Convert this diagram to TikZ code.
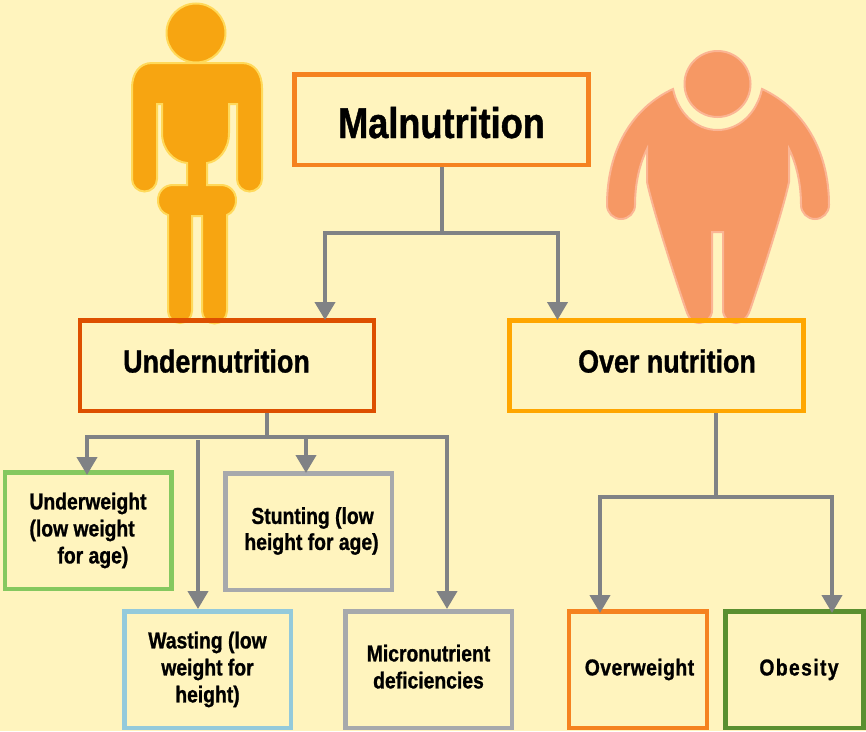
\documentclass[tikz,border=0pt]{standalone}
\usepackage{fontspec}
\usepackage{xcolor}
\usepackage{tikz}
\usetikzlibrary{arrows.meta}
\setmainfont[FakeStretch=0.84,BoldFeatures={FakeBold=1}]{Liberation Sans}
\definecolor{paperyellow}{HTML}{FFF4BE}
\definecolor{linegray}{HTML}{808285}
\definecolor{thinfill}{HTML}{F7A511}
\definecolor{thinedge}{HTML}{FFD95A}
\definecolor{fatfill}{HTML}{F69864}
\definecolor{fatedge}{HTML}{FBB594}
\definecolor{rootorange}{HTML}{F58220}
\definecolor{underred}{HTML}{DD4F00}
\definecolor{overamber}{HTML}{FFA600}
\definecolor{leafgreen}{HTML}{85C85F}
\definecolor{leafgray}{HTML}{A7A9AC}
\definecolor{leafblue}{HTML}{94CADB}
\definecolor{leafolive}{HTML}{5A8F30}

\begin{document}
\begin{tikzpicture}[x=1pt,y=-1pt,
        bigbox/.style={rectangle, draw, line width=4.5pt, minimum width=294pt, minimum height=90.5pt,
                     text centered, font=\bfseries\fontsize{32}{36}\selectfont},
        leafbox/.style={rectangle, draw, line width=4.5pt, minimum width=166.5pt, minimum height=116.5pt,
                     align=left, font=\bfseries\fontsize{23}{27}\selectfont},
        endbox/.style={rectangle, draw, line width=4.5pt, minimum width=138pt, minimum height=116.5pt,
                     text centered, font=\bfseries\fontsize{23}{27}\selectfont},
        arrow/.style={-{Triangle[width=20pt,length=18pt]}, line width=4pt, color=linegray, shorten >=-#1},
        arrow/.default=0pt,
        branch/.style={line width=4pt, color=linegray},
        thinman/.style={fill=thinfill, draw=thinedge, line width=2pt},
        fatman/.style={fill=fatfill, draw=fatedge, line width=2pt}
    ]
        % Page background
        \useasboundingbox (0,0) rectangle (866,731);
        \fill[paperyellow] (0,0) rectangle (866,731);

        % Thin figure
        \node[circle, thinman, minimum size=59pt, inner sep=0pt] (thinhead) at (196,33) {};
        \path[thinman] (152,63) -- (242,63) .. controls (255,63) and (262,74) .. (262,88)
            -- (262,179) arc[start angle=0, end angle=180, radius=12.5] -- (237,104) -- (229,104) -- (229,133)
            .. controls (229,150) and (218,162) .. (207,163) -- (207,185) -- (221,185)
            .. controls (230,185) and (236,192) .. (236,200) .. controls (236,208) and (232,213) .. (227,215)
            -- (227,311) arc[start angle=0, end angle=180, radius=12.5] -- (202,216) -- (192,216)
            -- (192,311) arc[start angle=0, end angle=180, radius=12] -- (168,215)
            .. controls (162,213) and (158,208) .. (158,200) .. controls (158,192) and (164,185) .. (173,185)
            -- (187,185) -- (187,163) .. controls (174,162) and (162,150) .. (162,133)
            -- (162,104) -- (157,104) -- (157,179) arc[start angle=0, end angle=180, radius=12.5]
            -- (132,88) .. controls (132,74) and (139,63) .. (152,63) -- cycle;

        % Fat figure
        \node[circle, fatman, minimum size=66pt, inner sep=0pt] (fathead) at (717.5,84) {};
        \path[fatman] (673,89) .. controls (678,113) and (696,130) .. (717.5,130)
            .. controls (739,130) and (757,113) .. (762,89)
            .. controls (803,108) and (829,150) .. (829,205)
            arc[start angle=0, end angle=180, radius=14]
            .. controls (801,185) and (797,165) .. (789,149) -- (789,182)
            .. controls (783,210) and (762,275) .. (750,310)
            .. controls (747,319) and (741,323) .. (736,323) .. controls (729,323) and (723,318) .. (723,310)
            -- (723,232) -- (712,232) -- (712,310)
            .. controls (712,318) and (706,323) .. (699,323) .. controls (693,323) and (689,319) .. (686,310)
            .. controls (674,275) and (653,210) .. (647,182) -- (647,149)
            .. controls (639,165) and (635,185) .. (635,205)
            arc[start angle=0, end angle=180, radius=14]
            .. controls (607,150) and (632,108) .. (673,89) -- cycle;

        % Main boxes
        \node[bigbox, draw=rootorange, font=\bfseries\fontsize{43}{47}\selectfont] (malnutrition) at (441.5,119.5) {\raisebox{-18.5pt}[0pt][0pt]{Malnutrition}};
        \node[bigbox, draw=underred] (undernutrition) at (227,365.5) {\raisebox{-7pt}[0pt][0pt]{Undernutrition}\hspace*{21pt}};
        \node[bigbox, draw=overamber] (overnutrition) at (656.5,365.5) {\hspace*{21pt}\raisebox{-7pt}[0pt][0pt]{Over nutrition}};

        % Leaf boxes
        \node[leafbox, draw=leafgreen] (underweight) at (88,530.5) {Underweight\\(low weight\\\hspace*{28pt}for age)};
        \node[leafbox, draw=leafgray] (stunting) at (308.5,531.5) {\hspace*{6pt}\begin{tabular}{@{}l@{}}\hspace*{7pt}Stunting (low\\[-1pt]height for age)\end{tabular}};
        \node[leafbox, draw=leafblue, align=center] (wasting) at (207.5,669.5) {Wasting (low\\weight for\\height)};
        \node[leafbox, draw=leafgray, align=center] (micronutrient) at (428.5,669.5) {\begin{tabular}{@{}c@{}}Micronutrient\\deficiencies\end{tabular}};
        \node[endbox, draw=rootorange] (overweight) at (638,669.5) {\hspace*{3pt}{\addfontfeature{LetterSpace=2}Overweight}};
        \node[endbox, draw=leafolive] (obesity) at (794.5,669.5) {\hspace*{9pt}{\addfontfeature{LetterSpace=6}Obesity}};

        % Junctions of the connectors
        \coordinate (rootfork) at (441.5,233);
        \coordinate (rootleft) at (325,233);
        \coordinate (rootright) at (557.5,233);
        \coordinate (underfork) at (267,437);
        \coordinate (underleft) at (87,437);
        \coordinate (undermid) at (306,437);
        \coordinate (underright) at (447,437);
        \coordinate (wastingtop) at (198,440);
        \coordinate (overfork) at (716,497);
        \coordinate (overleft) at (600,497);
        \coordinate (overright) at (832,497);

        % Top level arrows
        \draw[branch] (malnutrition.south) -- (rootfork);
        \draw[arrow=2pt] (rootfork) -- (rootleft) -- (rootleft |- undernutrition.north);
        \draw[arrow=2pt] (rootfork) -- (rootright) -- (rootright |- overnutrition.north);

        % Undernutrition arrows
        \draw[branch] (undernutrition.south -| underfork) -- (underfork);
        \draw[arrow=5pt] (underfork) -- (underleft) -- (underleft |- underweight.north);
        \draw[arrow=2pt] (underfork) -- (undermid) -- (undermid |- stunting.north);
        \draw[arrow] (underfork) -- (underright) -- (underright |- micronutrient.north);
        \draw[arrow] (wastingtop) -- (wastingtop |- wasting.north);

        % Over nutrition arrows
        \draw[branch] (overnutrition.south -| overfork) -- (overfork);
        \draw[arrow=4pt] (overfork) -- (overleft) -- (overleft |- overweight.north);
        \draw[arrow=4pt] (overfork) -- (overright) -- (overright |- obesity.north);

    \end{tikzpicture}
\end{document}
